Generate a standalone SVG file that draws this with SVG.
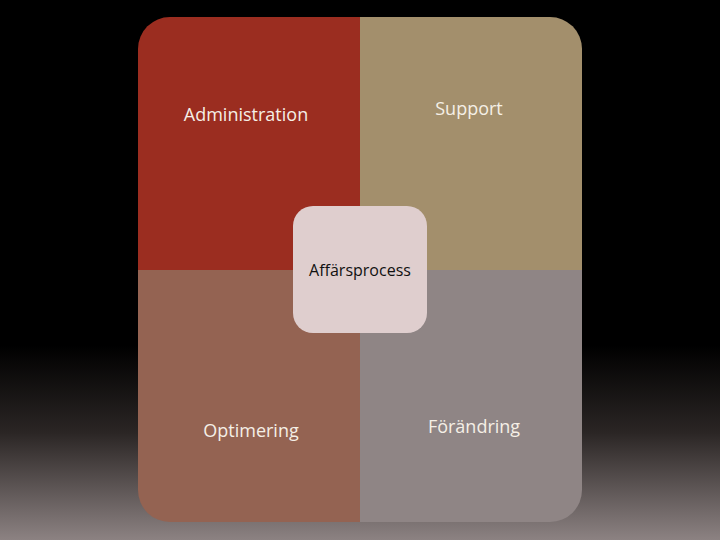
<svg xmlns="http://www.w3.org/2000/svg" width="720" height="540" viewBox="0 0 720 540">
<defs>
<linearGradient id="bg" x1="0" y1="0" x2="0" y2="1">
<stop offset="0" stop-color="#000"/>
<stop offset="0.64" stop-color="#000"/>
<stop offset="0.8" stop-color="#2a2524"/>
<stop offset="1" stop-color="#8c8282"/>
</linearGradient>
<clipPath id="outer"><rect x="138" y="17" width="444" height="505" rx="32" ry="32"/></clipPath>
</defs>
<style>
.lbl{font-family:"Open Sans","Liberation Sans",sans-serif;font-size:18px;fill:#f5efe6;text-anchor:middle}
.ctr{font-family:"Open Sans","Liberation Sans",sans-serif;font-size:16px;fill:#111;text-anchor:middle}
</style>
<rect width="720" height="540" fill="url(#bg)"/>
<g clip-path="url(#outer)">
<g id="administration"><rect x="138" y="17" width="222" height="253" fill="#9b2d20"/></g>
<g id="support"><rect x="360" y="17" width="222" height="253" fill="#a38f6c"/></g>
<g id="optimering"><rect x="138" y="270" width="222" height="252" fill="#946352"/></g>
<g id="forandring"><rect x="360" y="270" width="222" height="252" fill="#8f8585"/></g>
</g>
<text class="lbl" x="246" y="121">Administration</text>
<text class="lbl" x="469" y="115">Support</text>
<text class="lbl" x="251" y="437">Optimering</text>
<text class="lbl" x="474" y="433">Förändring</text>
<g id="affarsprocess">
<rect x="293" y="206" width="134" height="127" rx="20" ry="20" fill="#dfcece"/>
<text class="ctr" x="360" y="276">Affärsprocess</text>
</g>
<g id="connectors"/>
</svg>
